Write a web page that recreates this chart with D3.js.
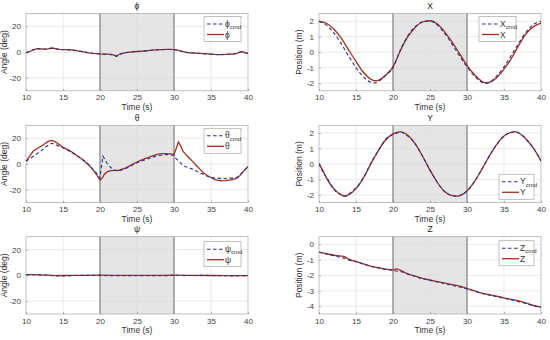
<!DOCTYPE html>
<html><head><meta charset="utf-8">
<script src="https://cdn.jsdelivr.net/npm/d3@7"></script>
<style>
body{margin:0;background:#fff;}
text{font-family:"Liberation Sans",Arial,Helvetica,sans-serif;}
</style></head>
<body><svg id="c" width="550" height="340"></svg>
<script>
// ---------- data ----------
const xTicks = [10, 15, 20, 25, 30, 35, 40];
const angleTicks = [-20, 0, 20];
const posTicks = [-2, -1, 0, 1, 2];
const zTicks = [-4, -3, -2, -1, 0];
const shadeRange = [20, 30];

const phiT   = [10,10.5,11,11.5,12,12.5,13,13.5,14,14.5,15,15.5,16,16.5,17,17.5,18,18.5,19,19.5,20,20.5,21,21.5,22,22.2,22.5,23,23.5,24,24.5,25,25.5,26,26.5,27,27.5,28,28.5,29,29.5,30,30.5,31,31.5,32,32.5,33,33.5,34,34.5,35,35.5,36,36.5,37,37.5,38,38.5,39,39.3,39.6,40];
const phiAct = [-0.5,0.5,1.8,2.8,2.6,2.3,2.6,3.2,2.8,2.2,2.0,2.0,1.8,1.5,1.0,0.6,0.0,-0.5,-0.9,-1.1,-1.4,-1.5,-1.6,-1.8,-2.5,-3.4,-2.0,-1.0,-0.3,0.0,0.3,0.5,0.6,0.9,1.2,1.5,1.7,1.9,2.0,2.1,2.1,2.0,1.5,0.8,0.0,-0.5,-0.6,-0.8,-1.0,-1.2,-1.4,-1.6,-1.8,-1.9,-1.9,-1.8,-1.6,-1.5,-1.0,0.2,0.3,-0.6,-0.8];
const phiCmd = [-0.4,0.6,1.9,2.7,2.5,2.3,2.7,3.1,2.7,2.2,2.0,1.9,1.8,1.4,1.0,0.5,0.0,-0.6,-0.9,-1.2,-1.4,-1.6,-1.7,-1.9,-2.4,-3.2,-2.1,-1.1,-0.4,0.0,0.3,0.5,0.7,0.9,1.2,1.5,1.7,1.9,2.0,2.1,2.0,2.0,1.4,0.7,0.0,-0.5,-0.7,-0.8,-1.0,-1.3,-1.5,-1.6,-1.8,-1.9,-1.8,-1.7,-1.6,-1.4,-0.9,0.1,0.2,-0.5,-0.8];

const thetaActT = [10,10.5,11,11.5,12,12.5,13,13.5,14,14.5,15,15.5,16,16.5,17,17.5,18,18.5,19,19.5,20,20.3,20.6,21,21.5,22,22.5,23,23.5,24,24.5,25,25.5,26,26.5,27,27.5,28,28.5,29,29.5,30,30.3,30.6,30.9,31.2,31.5,32,32.5,33,33.5,34,34.5,35,35.5,36,36.5,37,37.5,38,38.5,39,39.5,40];
const thetaAct  = [2,6,10,12,13.5,15.5,17.5,18.3,17,15,13,11.5,10,8,6,4,1.5,-1,-4,-8,-12.5,-11,-8,-6,-5.2,-5,-5,-4,-3,-1.5,0,1.5,2.8,4,5,6,7,7.8,8,8,7.8,7.5,12,17,14,10,8,5,2,-1,-4,-7,-9,-10.5,-12,-12.8,-13.2,-13,-12.5,-12,-11,-8.5,-5,-2];
const thetaCmdT = [10,10.5,11,11.5,12,12.5,13,13.5,14,14.5,15,15.5,16,16.5,17,17.5,18,18.5,19,19.5,20,20.2,20.4,20.7,21,21.5,22,22.5,23,23.5,24,24.5,25,25.5,26,26.5,27,27.5,28,28.5,29,29.5,30,30.3,30.6,31,31.5,32,32.5,33,33.5,34,34.5,35,35.5,36,36.5,37,37.5,38,38.5,39,39.5,40];
const thetaCmd  = [2,4,6,8,10,12.5,14.5,16,15,13.5,12.5,11,9.5,8,6,4,2,-0.5,-4,-7,-11,-2,6,3,0,-3,-5,-5.5,-4.5,-3.5,-2,-0.5,1,2,3,4,5,6,6.5,7,7.2,7,6.5,4,2.5,0,-2,-3,-4,-5.5,-7,-8,-9.5,-10.5,-11,-11,-11.5,-11.5,-11,-11,-10.5,-8,-5,-2];

const psiActT = [10,11,12,13,14,15,16,18,20,22,25,28,30,32,35,37,40];
const psiAct  = [0.5,0.5,0.4,0.1,-0.2,-0.1,0,0,0.1,0,0,0,0.1,0,-0.1,-0.2,-0.2];
const psiCmdT = [10,11,12,13,14,15.5,16,18,20,21,29,30,31.5,34,36,38,40];
const psiCmd  = [0.6,0.5,0.2,0,-0.5,-0.5,-0.2,0,0,-0.3,-0.3,0,-0.2,0,-0.3,-0.4,-0.3];

const posT = [10,11,12,13,14,15,16,17,17.5,18,19,20,21,22,23,24,25,26,27,28,29,30,31,32,32.5,33,34,35,36,37,38,39,40];
const xAct = [2.0,1.87,1.5,0.9,0.15,-0.6,-1.3,-1.75,-1.85,-1.82,-1.5,-0.95,0.1,1.0,1.6,1.95,2.03,1.82,1.3,0.65,-0.1,-0.85,-1.45,-1.88,-1.98,-1.95,-1.65,-1.1,-0.4,0.45,1.2,1.65,1.88];
const xCmd = [1.98,1.75,1.25,0.55,-0.25,-1.0,-1.6,-1.95,-2.0,-1.9,-1.5,-1.0,0.15,1.05,1.65,1.97,2.0,1.75,1.2,0.5,-0.25,-0.95,-1.55,-1.95,-2.02,-1.97,-1.55,-0.95,-0.2,0.6,1.3,1.8,2.0];

const yT   = [10,10.5,11,12,13,13.5,14,15,16,17,18,19,20,21,22,23,24,25,26,27,28,28.7,29,30,31,32,33,34,35,36,36.5,37,38,39,40];
const yAct = [0,-0.4,-0.9,-1.6,-2.0,-2.08,-2.0,-1.6,-0.9,0,0.85,1.55,1.95,2.07,1.85,1.3,0.5,-0.4,-1.2,-1.8,-2.05,-2.08,-2.05,-1.75,-1.15,-0.35,0.5,1.25,1.8,2.05,2.08,2.0,1.6,1.0,0.2];
const yCmd = [0.05,-0.5,-0.85,-1.65,-2.0,-2.1,-1.95,-1.55,-0.9,0.05,0.85,1.6,1.9,2.05,1.8,1.3,0.5,-0.4,-1.2,-1.8,-2.05,-2.1,-2.05,-1.75,-1.15,-0.35,0.5,1.25,1.8,2.05,2.08,2.0,1.6,1.0,0.2];

const zT   = [10,11,12,13,13.5,14,15,16,17,18,19,20,20.5,21,22,23,24,25,26,27,28,29,30,31,32,33,34,35,36,37,38,39,40];
const zAct = [-0.5,-0.6,-0.7,-0.75,-0.8,-0.95,-1.1,-1.25,-1.4,-1.5,-1.6,-1.65,-1.58,-1.68,-1.9,-2.05,-2.2,-2.3,-2.4,-2.5,-2.6,-2.7,-2.85,-3.0,-3.15,-3.25,-3.35,-3.45,-3.55,-3.65,-3.8,-3.95,-4.05];
const zCmd = [-0.5,-0.62,-0.72,-0.85,-0.9,-1.0,-1.12,-1.28,-1.42,-1.52,-1.62,-1.68,-1.72,-1.75,-1.92,-2.08,-2.23,-2.33,-2.43,-2.53,-2.65,-2.75,-2.88,-3.02,-3.18,-3.28,-3.38,-3.48,-3.6,-3.7,-3.82,-3.97,-4.05];

// ---------- drawing ----------
const svg = d3.select("#c");
const cmdColor = "#2b2f8f", actColor = "#a0301f";
const symFont = "DejaVu Sans, Liberation Sans, sans-serif";
const colX = [26, 319], plotW = 222, rowY = [13.5, 125.3, 236.7], plotH = 77.3;
const fmt = d => String(d);

function panel(o) {
  const x0 = colX[o.col], y0 = rowY[o.row];
  const g = svg.append("g").attr("transform", `translate(${x0},${y0})`);
  const x = d3.scaleLinear().domain([10, 40]).range([0, plotW]);
  const y = d3.scaleLinear().domain(o.ydom).range([plotH, 0]);
  g.append("rect").attr("x", x(shadeRange[0])).attr("y", 0)
    .attr("width", x(shadeRange[1]) - x(shadeRange[0])).attr("height", plotH).attr("fill", "#e5e5e5");
  g.append("g").selectAll("line").data(xTicks.slice(1, -1)).join("line")
    .attr("x1", d => x(d)).attr("x2", d => x(d)).attr("y1", 0).attr("y2", plotH)
    .attr("stroke", "#dcdcdc").attr("stroke-width", 0.6);
  g.append("g").selectAll("line").data(o.yticks).join("line")
    .attr("x1", 0).attr("x2", plotW).attr("y1", d => y(d)).attr("y2", d => y(d))
    .attr("stroke", "#dcdcdc").attr("stroke-width", 0.6);
  g.append("g").selectAll("line").data(shadeRange).join("line")
    .attr("x1", d => x(d)).attr("x2", d => x(d)).attr("y1", 0).attr("y2", plotH)
    .attr("stroke", "#6e6e6e").attr("stroke-width", 1);
  g.append("rect").attr("width", plotW).attr("height", plotH)
    .attr("fill", "none").attr("stroke", "#a6a6a6").attr("stroke-width", 0.7);
  const ax = d3.axisBottom(x).tickValues(xTicks).tickFormat(fmt).tickSize(-2).tickPadding(4);
  const gx = g.append("g").attr("transform", `translate(0,${plotH})`).call(ax);
  const ay = d3.axisLeft(y).tickValues(o.yticks).tickFormat(fmt).tickSize(-2).tickPadding(5);
  const gy = g.append("g").call(ay);
  [gx, gy].forEach(a => {
    a.select(".domain").remove();
    a.selectAll(".tick line").attr("stroke", "#8c8c8c").attr("stroke-width", 0.6);
    a.selectAll(".tick text").attr("fill", "#404040").attr("font-size", 8)
      .attr("font-family", "Liberation Sans, Arial, sans-serif");
  });
  const line = d3.line().x(d => x(d[0])).y(d => y(d[1])).curve(o.curve || d3.curveMonotoneX);
  const clipId = "clip" + o.col + o.row;
  g.append("clipPath").attr("id", clipId).append("rect").attr("width", plotW).attr("height", plotH);
  g.append("path").datum(d3.zip(o.actT, o.act)).attr("d", line).attr("clip-path", `url(#${clipId})`)
    .attr("fill", "none").attr("stroke", actColor).attr("stroke-width", 1.3);
  g.append("path").datum(d3.zip(o.cmdT, o.cmd)).attr("d", line).attr("clip-path", `url(#${clipId})`)
    .attr("fill", "none").attr("stroke", cmdColor).attr("stroke-width", 1.1).attr("stroke-dasharray", "3.5,2.5");
  g.append("text").attr("x", plotW / 2).attr("y", -4.5).attr("text-anchor", "middle")
    .attr("font-size", 8.5).attr("fill", "#222").attr("font-family", symFont).text(o.title);
  g.append("text").attr("x", plotW / 2).attr("y", plotH + 19).attr("text-anchor", "middle")
    .attr("font-size", 8.5).attr("fill", "#333").text("Time (s)");
  g.append("text").attr("transform", `translate(${o.ylabX},${plotH / 2}) rotate(-90)`)
    .attr("text-anchor", "middle").attr("font-size", 8.5).attr("fill", "#333").text(o.ylabel);
  const lg = g.append("g").attr("transform", `translate(${o.leg[0]},${o.leg[1]})`);
  lg.append("rect").attr("width", o.leg[2]).attr("height", 25).attr("fill", "#fff")
    .attr("stroke", "#a6a6a6").attr("stroke-width", 0.7);
  lg.append("line").attr("x1", 3).attr("x2", 20).attr("y1", 7.5).attr("y2", 7.5)
    .attr("stroke", cmdColor).attr("stroke-width", 1.1).attr("stroke-dasharray", "3.5,2.5");
  lg.append("line").attr("x1", 3).attr("x2", 20).attr("y1", 18).attr("y2", 18)
    .attr("stroke", actColor).attr("stroke-width", 1.3);
  const t1 = lg.append("text").attr("x", 21).attr("y", 10).attr("font-size", 8.5).attr("fill", "#333")
    .attr("font-family", symFont);
  t1.append("tspan").text(o.sym);
  t1.append("tspan").attr("dy", 2.5).attr("font-size", 6).text("cmd");
  lg.append("text").attr("x", 21).attr("y", 21).attr("font-size", 8.5).attr("fill", "#333")
    .attr("font-family", symFont).text(o.sym);
}

panel({col:0,row:0,title:"ϕ",sym:"ϕ",ylabel:"Angle (deg)",ylabX:-19,ydom:[-30,30],yticks:angleTicks,
  actT:phiT,act:phiAct,cmdT:phiT,cmd:phiCmd,curve:d3.curveLinear,leg:[178,3,37]});
panel({col:0,row:1,title:"θ",sym:"θ",ylabel:"Angle (deg)",ylabX:-19,ydom:[-30,30],yticks:angleTicks,
  actT:thetaActT,act:thetaAct,cmdT:thetaCmdT,cmd:thetaCmd,curve:d3.curveLinear,leg:[178,3,37]});
panel({col:0,row:2,title:"ψ",sym:"ψ",ylabel:"Angle (deg)",ylabX:-19,ydom:[-30,30],yticks:angleTicks,
  actT:psiActT,act:psiAct,cmdT:psiCmdT,cmd:psiCmd,curve:d3.curveLinear,leg:[178,5,37]});
panel({col:1,row:0,title:"X",sym:"X",ylabel:"Position (m)",ylabX:-17,ydom:[-2.5,2.5],yticks:posTicks,
  actT:posT,act:xAct,cmdT:posT,cmd:xCmd,leg:[160,3,37]});
panel({col:1,row:1,title:"Y",sym:"Y",ylabel:"Position (m)",ylabX:-17,ydom:[-2.5,2.5],yticks:posTicks,
  actT:yT,act:yAct,cmdT:yT,cmd:yCmd,leg:[180,49,35]});
panel({col:1,row:2,title:"Z",sym:"Z",ylabel:"Position (m)",ylabX:-17,ydom:[-4.5,0.5],yticks:zTicks,
  actT:zT,act:zAct,cmdT:zT,cmd:zCmd,leg:[180,4,35]});
</script></body></html>
